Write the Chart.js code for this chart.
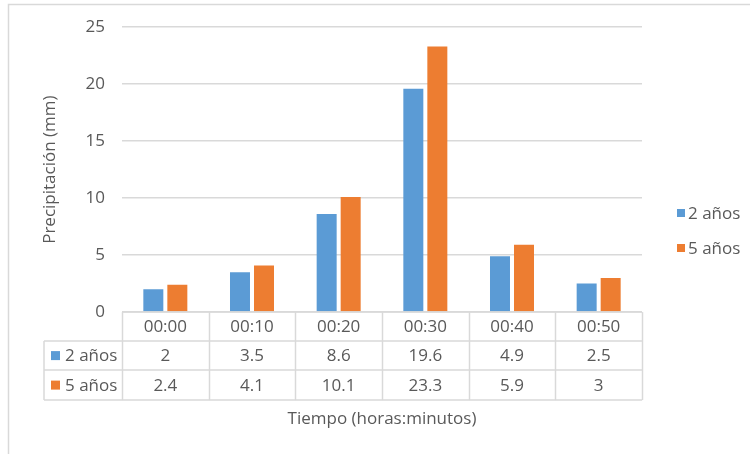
<!DOCTYPE html>
<html>
<head>
<meta charset="utf-8">
<script src="https://cdn.jsdelivr.net/npm/chart.js@4/dist/chart.umd.min.js"></script>
<style>
  html, body { margin: 0; padding: 0; background: #fff; overflow: hidden; }
  #wrap { position: relative; width: 750px; height: 454px; }
  canvas { display: block; }
</style>
</head>
<body>
<div id="wrap"><canvas id="chart" width="750" height="454"></canvas></div>
<script>
// Rainfall per 10-minute interval for two return periods
const categories = ['00:00', '00:10', '00:20', '00:30', '00:40', '00:50'];
const seriesNames = ['2 años', '5 años'];
const rain2 = [2, 3.5, 8.6, 19.6, 4.9, 2.5];
const rain5 = [2.4, 4.1, 10.1, 23.3, 5.9, 3];
const yTicks = [0, 5, 10, 15, 20, 25];

const COLORS = ['#5B9BD5', '#ED7D31'];
const TEXT = '#595959';
const LINE = '#d9d9d9';
const FONT_FAMILY = '"Open Sans", "Noto Sans", sans-serif';
const FONT_SIZE = 17;

// White background and light frame around the whole chart
const frame = {
  id: 'frame',
  beforeDraw(chart) {
    const { ctx, width, height } = chart;
    ctx.save();
    ctx.fillStyle = '#fff';
    ctx.fillRect(0, 0, width, height);
    ctx.strokeStyle = LINE;
    ctx.lineWidth = 1.5;
    ctx.strokeRect(8.5, 4.5, width + 20, height + 20);
    ctx.restore();
  }
};

// Data table under the plot plus the side legend
const dataTable = {
  id: 'dataTable',
  afterDraw(chart) {
    const { ctx, chartArea, scales } = chart;
    const x = scales.x;
    const n = categories.length;
    const colW = (chartArea.right - chartArea.left) / n;
    const rows = [chartArea.bottom, chartArea.bottom + 29, chartArea.bottom + 58, chartArea.bottom + 88];
    const labelLeft = 44;
    const font = `${FONT_SIZE}px ${FONT_FAMILY}`;
    const series = [rain2, rain5];

    ctx.save();
    ctx.strokeStyle = LINE;
    ctx.lineWidth = 1.5;
    const seg = (x1, y1, x2, y2) => {
      ctx.beginPath(); ctx.moveTo(x1, y1); ctx.lineTo(x2, y2); ctx.stroke();
    };
    seg(chartArea.left, rows[0], chartArea.right, rows[0]);
    for (let r = 1; r < rows.length; r++) seg(labelLeft, rows[r], chartArea.right, rows[r]);
    for (let i = 0; i <= n; i++) {
      const bx = Math.round(chartArea.left + i * colW) + 0.5;
      seg(bx, rows[0], bx, rows[3]);
    }
    seg(labelLeft, rows[1], labelLeft, rows[3]);

    ctx.font = font;
    ctx.fillStyle = TEXT;
    ctx.textAlign = 'center';
    ctx.textBaseline = 'middle';
    categories.forEach((c, i) => {
      const cx = x.getPixelForValue(i);
      ctx.fillText(c, cx, (rows[0] + rows[1]) / 2 + 1);
      series.forEach((vals, s) => {
        ctx.fillText(String(vals[i]), cx, (rows[s + 1] + rows[s + 2]) / 2 + 1);
      });
    });

    // Row headers with colour keys
    seriesNames.forEach((name, s) => {
      const cy = (rows[s + 1] + rows[s + 2]) / 2;
      ctx.fillStyle = COLORS[s];
      ctx.fillRect(51, cy - 4.5, 9, 9);
      ctx.fillStyle = TEXT;
      ctx.textAlign = 'left';
      ctx.fillText(name, 65, cy + 1);
    });

    // Legend to the right of the plot
    const lx = chartArea.right + 35;
    seriesNames.forEach((name, s) => {
      const cy = 213 + s * 35;
      ctx.fillStyle = COLORS[s];
      ctx.fillRect(lx, cy - 4, 8, 8);
      ctx.fillStyle = TEXT;
      ctx.textAlign = 'left';
      ctx.fillText(name, lx + 11, cy + 1);
    });
    ctx.restore();
  }
};

new Chart(document.getElementById('chart'), {
  type: 'bar',
  data: {
    labels: categories,
    datasets: [
      { label: seriesNames[0], data: rain2, backgroundColor: COLORS[0], categoryPercentage: 0.554, barPercentage: 0.833 },
      { label: seriesNames[1], data: rain5, backgroundColor: COLORS[1], categoryPercentage: 0.554, barPercentage: 0.833 }
    ]
  },
  options: {
    responsive: false,
    animation: false,
    devicePixelRatio: 1,
    layout: { padding: { top: 27, right: 108, bottom: 20, left: 0 } },
    plugins: {
      legend: { display: false },
      tooltip: { enabled: false }
    },
    scales: {
      x: {
        grid: { display: false, drawTicks: false },
        border: { display: false },
        ticks: { display: false },
        title: {
          display: true,
          text: 'Tiempo (horas:minutos)',
          color: TEXT,
          font: { family: FONT_FAMILY, size: FONT_SIZE },
          padding: { top: 97, bottom: 4.5 }
        }
      },
      y: {
        min: 0,
        max: 25,
        afterBuildTicks(scale) { scale.ticks = yTicks.map(v => ({ value: v })); },
        afterFit(scale) { scale.width = 122; },
        ticks: { padding: 17, color: TEXT, font: { family: FONT_FAMILY, size: FONT_SIZE } },
        grid: { color: LINE, lineWidth: 1.5, drawTicks: false },
        border: { display: false },
        title: {
          display: true,
          text: 'Precipitación (mm)',
          color: TEXT,
          font: { family: FONT_FAMILY, size: FONT_SIZE },
          padding: { top: 40, bottom: 0 }
        }
      }
    }
  },
  plugins: [frame, dataTable]
});
</script>
</body>
</html>
